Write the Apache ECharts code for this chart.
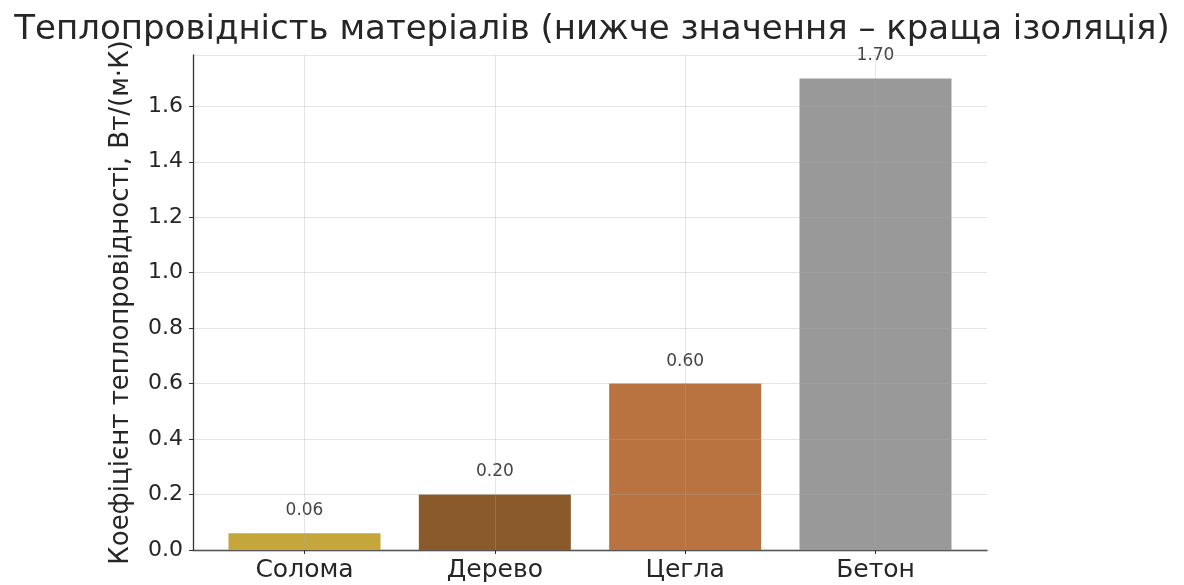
<!DOCTYPE html>
<html>
<head>
<meta charset="utf-8">
<script src="https://cdn.jsdelivr.net/npm/echarts@6/dist/echarts.min.js"></script>
<style>
  html, body { margin: 0; padding: 0; background: #fff; }
  #main { width: 1184px; height: 585px; }
</style>
</head>
<body>
<div id="main"></div>
<script>
const materials = ['Солома', 'Дерево', 'Цегла', 'Бетон'];
const conductivity = [0.06, 0.2, 0.6, 1.7];
const barColors = ['#c4a63a', '#8b5a2b', '#b87340', '#999999'];

const chart = echarts.init(document.getElementById('main'));
const font = 'DejaVu Sans';
const yMax = 1.785; // 1.70 * 1.05, як у matplotlib
const gridLine = { show: true, lineStyle: { color: 'rgba(170,170,170,0.3)', type: 'solid', width: 1 } };

const option = {
  animation: false,
  backgroundColor: '#fff',
  title: {
    text: 'Теплопровідність матеріалів (нижче значення – краща ізоляція)',
    left: 'center',
    top: 8,
    textStyle: { fontFamily: font, fontSize: 34, fontWeight: 'normal', color: '#262626' }
  },
  grid: [
    // зовнішня рамка: вісь y, нижня лінія, горизонтальна сітка
    { left: 193, right: 197, top: 55, bottom: 35 },
    // внутрішня: категорії по центрах стовпців
    { left: 304.5, right: 308.5, top: 55, bottom: 35 }
  ],
  xAxis: [
    {
      type: 'value', gridIndex: 0, min: 0, max: 1,
      axisLine: { show: true, lineStyle: { color: '#333', width: 1.3 } },
      axisTick: { show: false }, axisLabel: { show: false }, splitLine: { show: false }
    },
    {
      type: 'category', gridIndex: 1, data: materials, boundaryGap: false, z: 5,
      axisLine: { show: false },
      axisTick: { show: true, length: 4, lineStyle: { color: '#333' } },
      axisLabel: { fontFamily: font, fontSize: 25, color: '#262626', margin: 8 },
      splitLine: gridLine
    }
  ],
  yAxis: [
    {
      type: 'value', gridIndex: 0, min: 0, max: yMax, interval: 0.2, z: 5,
      name: 'Коефіцієнт теплопровідності, Вт/(м·К)',
      nameLocation: 'middle', nameGap: 59, nameRotate: 90,
      nameTextStyle: { fontFamily: font, fontSize: 26, color: '#262626' },
      axisLine: { show: true, lineStyle: { color: '#333', width: 1.3 } },
      axisTick: { show: true, length: 4, lineStyle: { color: '#333' } },
      axisLabel: {
        fontFamily: font, fontSize: 22, color: '#262626', margin: 10,
        showMaxLabel: false,
        formatter: v => v.toFixed(1)
      },
      splitLine: gridLine
    },
    {
      type: 'value', gridIndex: 1, min: 0, max: yMax, show: false,
      splitLine: { show: false }
    }
  ],
  series: [{
    type: 'bar',
    xAxisIndex: 1,
    yAxisIndex: 1,
    clip: false,
    barWidth: 152,
    data: conductivity.map((v, i) => ({ value: v, itemStyle: { color: barColors[i] } })),
    label: {
      show: true,
      position: 'top',
      distance: 14,
      fontFamily: font,
      fontSize: 17,
      color: '#444',
      formatter: p => p.value.toFixed(2)
    }
  }]
};

chart.setOption(option);
</script>
</body>
</html>
